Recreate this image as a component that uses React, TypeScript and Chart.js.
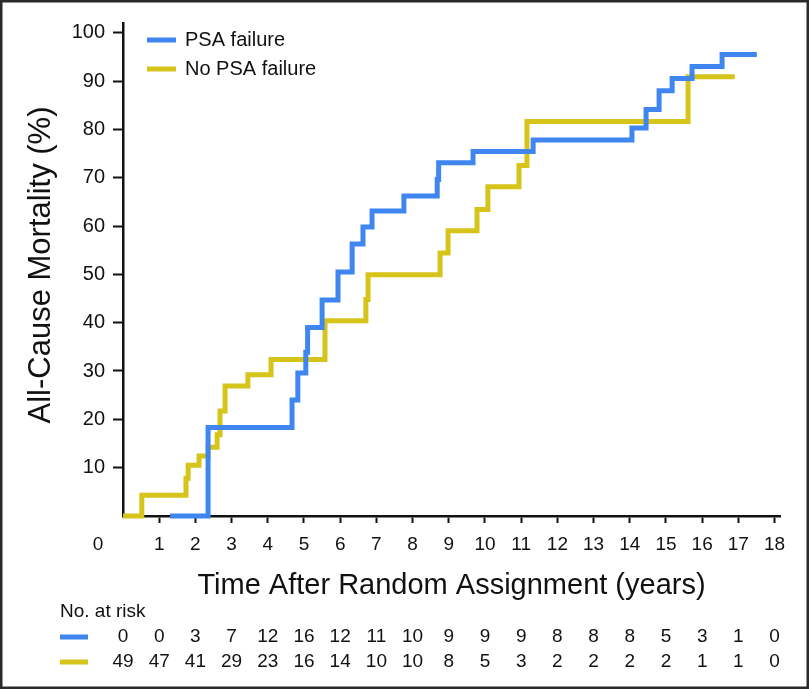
import React, { useEffect, useRef } from "react";
import { Chart, registerables } from "chart.js";

Chart.register(...registerables);

const FONT = '"Liberation Sans", Arial, Helvetica, sans-serif';
const INK = "#111111";
const BLUE = "#3f86f0";
const YELLOW = "#d6c41a";

// PSA failure (blue) step curve: event times (years) and cumulative mortality (%)
const psaTimes = [1.3, 2.35, 4.67, 4.83, 5.05, 5.1, 5.5, 5.94, 6.33, 6.63, 6.88, 7.76, 8.68, 8.72, 9.67, 11.33, 14.06, 14.45, 14.81, 15.17, 15.72, 16.55, 17.51];
const psaValues = [0, 18.3, 24.0, 29.6, 33.9, 39.0, 44.7, 50.5, 56.3, 59.8, 63.1, 66.2, 69.6, 73.1, 75.4, 77.8, 80.3, 84.1, 88.0, 90.5, 93.0, 95.5, 95.5];

// No PSA failure (yellow) step curve
const noPsaTimes = [0, 0.52, 1.74, 1.8, 2.1, 2.35, 2.6, 2.68, 2.82, 3.45, 4.09, 5.58, 6.71, 6.77, 8.76, 8.98, 9.78, 10.08, 10.94, 11.16, 15.61, 16.9];
const noPsaValues = [0, 4.3, 7.8, 10.5, 12.4, 14.2, 16.8, 21.7, 26.9, 29.2, 32.4, 40.4, 44.8, 49.9, 54.4, 59.0, 63.4, 68.1, 72.5, 81.6, 90.9, 90.9];

const seriesLabels = ["PSA failure", "No PSA failure"];

const xTickValues = [1, 2, 3, 4, 5, 6, 7, 8, 9, 10, 11, 12, 13, 14, 15, 16, 17, 18];
const yTickValues = [10, 20, 30, 40, 50, 60, 70, 80, 90, 100];

const riskTimes = [0, 1, 2, 3, 4, 5, 6, 7, 8, 9, 10, 11, 12, 13, 14, 15, 16, 17, 18];
const riskPsa = [0, 0, 3, 7, 12, 16, 12, 11, 10, 9, 9, 9, 8, 8, 8, 5, 3, 1, 0];
const riskNoPsa = [49, 47, 41, 29, 23, 16, 14, 10, 10, 8, 5, 3, 2, 2, 2, 2, 1, 1, 0];

const xTitle = "Time After Random Assignment (years)";
const yTitle = "All-Cause Mortality (%)";
const riskTitle = "No. at risk";

const decorPlugin = {
  id: "decor",
  beforeDraw(chart: any) {
    const ctx = chart.ctx;
    ctx.save();
    ctx.fillStyle = "#ffffff";
    ctx.fillRect(0, 0, chart.width, chart.height);
    ctx.restore();
  },
  afterDraw(chart: any) {
    const ctx = chart.ctx;
    const xs = chart.scales.x;
    const ys = chart.scales.y;
    const area = chart.chartArea;
    ctx.save();
    ctx.fillStyle = INK;

    // origin "0"
    ctx.font = `19px ${FONT}`;
    ctx.textAlign = "center";
    ctx.textBaseline = "middle";
    ctx.fillText("0", area.left - 25, ys.getPixelForValue(0) + 29);

    // x title
    ctx.font = `29px ${FONT}`;
    ctx.textAlign = "center";
    ctx.textBaseline = "alphabetic";
    ctx.fillText(xTitle, (area.left + area.right) / 2, 594);

    // y title
    ctx.save();
    ctx.translate(50, 265);
    ctx.rotate(-Math.PI / 2);
    ctx.font = `31px ${FONT}`;
    ctx.textAlign = "center";
    ctx.textBaseline = "alphabetic";
    ctx.fillText(yTitle, 0, 0);
    ctx.restore();

    // legend
    const legendColors = [BLUE, YELLOW];
    ctx.font = `20px ${FONT}`;
    ctx.textAlign = "left";
    ctx.textBaseline = "middle";
    seriesLabels.forEach((lab, i) => {
      const y = 40 + i * 29;
      ctx.fillStyle = legendColors[i];
      ctx.fillRect(147, y - 2.5, 29, 5);
      ctx.fillStyle = INK;
      ctx.fillText(lab, 185, y + 0.5);
    });

    // risk table
    ctx.font = `19px ${FONT}`;
    ctx.textAlign = "left";
    ctx.textBaseline = "middle";
    ctx.fillText(riskTitle, 60, 612);
    const rows = [riskPsa, riskNoPsa];
    const rowY = [637, 662];
    rows.forEach((row, r) => {
      ctx.fillStyle = legendColors[r];
      ctx.fillRect(60, rowY[r] - 2.5, 28, 5);
      ctx.fillStyle = INK;
      ctx.textAlign = "center";
      row.forEach((n, i) => {
        ctx.fillText(String(n), xs.getPixelForValue(riskTimes[i]), rowY[r]);
      });
    });

    // frame
    ctx.strokeStyle = "#2a2a2a";
    ctx.lineWidth = 2.5;
    ctx.strokeRect(1.25, 1.25, chart.width - 2.5, chart.height - 2.5);
    ctx.restore();
  },
};

export default function App() {
  const ref = useRef<HTMLCanvasElement>(null);
  useEffect(() => {
    if (!ref.current) return;
    const chart = new Chart(ref.current, {
      type: "line",
      data: {
        datasets: [
          {
            label: seriesLabels[0],
            data: psaTimes.map((t, i) => ({ x: t, y: psaValues[i] })),
            borderColor: BLUE,
            borderWidth: 5,
            stepped: "before",
            pointRadius: 0,
            fill: false,
            clip: false,
            borderJoinStyle: "miter",
            borderCapStyle: "butt",
          } as any,
          {
            label: seriesLabels[1],
            data: noPsaTimes.map((t, i) => ({ x: t, y: noPsaValues[i] })),
            borderColor: YELLOW,
            borderWidth: 5,
            stepped: "before",
            pointRadius: 0,
            fill: false,
            clip: false,
            borderJoinStyle: "miter",
            borderCapStyle: "butt",
          } as any,
        ],
      },
      options: {
        responsive: false,
        animation: false,
        events: [],
        layout: { padding: { top: 23, right: 29, left: 0, bottom: 0 } },
        plugins: { legend: { display: false }, tooltip: { enabled: false } },
        scales: {
          x: {
            type: "linear",
            min: 0,
            max: 18.15,
            afterBuildTicks: (s: any) => {
              s.ticks = xTickValues.map((v) => ({ value: v }));
            },
            afterFit: (s: any) => {
              s.height = 173;
            },
            grid: { display: true, drawOnChartArea: false, drawTicks: true, tickLength: 7, tickWidth: 2, tickColor: INK },
            border: { display: true, color: INK, width: 2.5 },
            ticks: { font: { family: FONT, size: 19 }, color: INK, padding: 10, maxRotation: 0, autoSkip: false },
          },
          y: {
            type: "linear",
            min: 0,
            max: 102,
            afterBuildTicks: (s: any) => {
              s.ticks = yTickValues.map((v) => ({ value: v }));
            },
            afterFit: (s: any) => {
              s.width = 123;
            },
            grid: { display: true, drawOnChartArea: false, drawTicks: true, tickLength: 10, tickWidth: 2, tickColor: INK },
            border: { display: true, color: INK, width: 2.5 },
            ticks: { font: { family: FONT, size: 20 }, color: INK, padding: 8, autoSkip: false },
          },
        },
      } as any,
      plugins: [decorPlugin],
    });
    return () => chart.destroy();
  }, []);
  return (
    <div style={{ position: "absolute", left: 0, top: 0, width: 809, height: 689, background: "#fff" }}>
      <canvas ref={ref} width={809} height={689} style={{ display: "block" }} />
    </div>
  );
}
